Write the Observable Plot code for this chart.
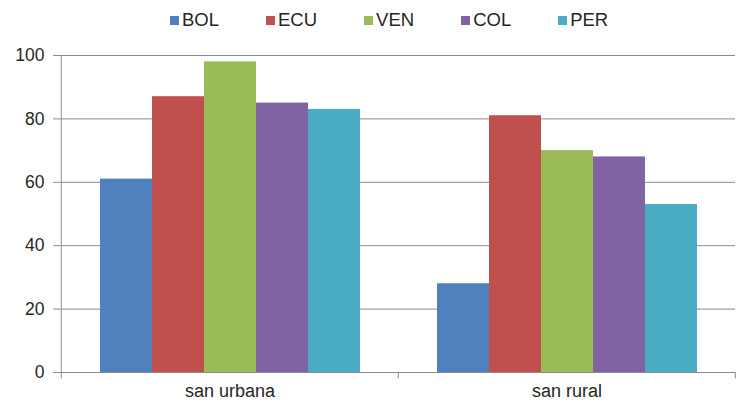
<!DOCTYPE html>
<html>
<head>
<meta charset="utf-8">
<script src="https://cdn.jsdelivr.net/npm/d3@7"></script>
<script src="https://cdn.jsdelivr.net/npm/@observablehq/plot@0.6"></script>
<style>
  html, body { margin: 0; padding: 0; background: #fff; }
  body { width: 736px; height: 403px; overflow: hidden; font-family: "Liberation Sans", Arial, sans-serif; }
  #legend { height: 40px; display: flex; align-items: center; padding-left: 170px; box-sizing: border-box; }
  #legend .item { display: flex; align-items: center; margin-right: 47px; font-size: 18.5px; color: #262626; }
  #legend .sw { width: 9px; height: 9px; margin-right: 3px; }
  svg { display: block; }
</style>
</head>
<body>
<div id="legend"></div>
<div id="chart"></div>
<script>
const groups = ["san urbana", "san rural"];
const countries = ["BOL", "ECU", "VEN", "COL", "PER"];
const colors = ["#4F81BD", "#C0504D", "#9BBB59", "#8064A2", "#4BACC6"];
const urbana = [61, 87, 98, 85, 83];
const rural = [28, 81, 70, 68, 53];
const yTicks = [0, 20, 40, 60, 80, 100];

const seriesByGroup = {"san urbana": urbana, "san rural": rural};
const data = groups.flatMap(g => countries.map((c, i) => ({group: g, country: c, value: seriesByGroup[g][i]})));

// legend
const legend = document.getElementById("legend");
countries.forEach((c, i) => {
  const it = document.createElement("div");
  it.className = "item";
  it.innerHTML = `<span class="sw" style="background:${colors[i]}"></span><span>${c}</span>`;
  legend.appendChild(it);
});

const W = 736, H = 363, mL = 60, mR = 1;
const half = (W - mL - mR) / groups.length / 2;
const axisColor = "#8a8a8a";

const chart = Plot.plot({
  width: W,
  height: H,
  marginLeft: mL,
  marginRight: mR,
  marginTop: 15,
  marginBottom: 31,
  style: {fontFamily: "'Liberation Sans', Arial, sans-serif", color: "#262626", background: "#fff"},
  fx: {domain: groups, padding: 0, label: null},
  x: {domain: countries, paddingInner: 0, paddingOuter: 0.7, axis: null},
  y: {domain: [0, 100], label: null},
  color: {domain: countries, range: colors},
  marks: [
    Plot.gridY(yTicks, {stroke: axisColor, strokeOpacity: 1, strokeWidth: 1}),
    Plot.barY(data, {fx: "group", x: "country", y: "value", fill: "country"}),
    Plot.axisY(yTicks, {tickSize: 8, tickPadding: 9, fontSize: 17.5, stroke: axisColor, fill: "#262626", label: null}),
    Plot.axisFx({anchor: "bottom", tickSize: 0, tickPadding: 12, fontSize: 18, fill: "#262626", label: null}),
    // y axis line (left edge of first facet)
    Plot.ruleX(groups.slice(0, 1), {fx: d => d, x: null, y1: -2, y2: 100, dx: -half, stroke: axisColor}),
    // category separator ticks
    Plot.ruleX(groups.slice(1), {fx: d => d, x: null, y1: -2, y2: 0, dx: -half, stroke: axisColor}),
    Plot.ruleX(groups.slice(1), {fx: d => d, x: null, y1: -2, y2: 0, dx: half - 0.5, stroke: axisColor})
  ]
});
document.getElementById("chart").appendChild(chart);
</script>
</body>
</html>
